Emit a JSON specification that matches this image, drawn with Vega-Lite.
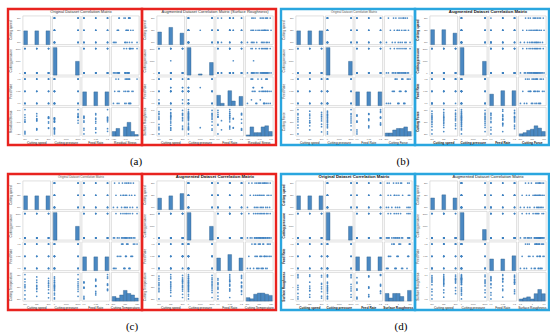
{
"$schema":"https://vega.github.io/schema/vega-lite/v6.json",
"padding":{"left":6,"top":7,"right":0,"bottom":0},
"config":{"view":{"stroke":null},"font":"Liberation Sans"},
"spacing":4,
"vconcat":[
{"hconcat":[
{"hconcat":[
{"width":134,"height":136,"view":{"stroke":"#e8231f","strokeWidth":2.4},"layer":[
{"data":{"name":"orig"},"transform":[{"fold":["s","pr","f","rs"],"as":["xk","xv"]},{"fold":["s","pr","f","rs"],"as":["yk","yv"]},{"aggregate":[{"op":"count","as":"n"}],"groupby":["xk","yk"]},{"calculate":"indexof(['s','pr','f','rs'],datum.xk)","as":"ci"},{"calculate":"3-indexof(['s','pr','f','rs'],datum.yk)","as":"ri"},{"calculate":"datum.ci+0.03","as":"x0"},{"calculate":"datum.ci+0.97","as":"x1"},{"calculate":"datum.ri+0.03","as":"y0"},{"calculate":"datum.ri+0.97","as":"y1"}],
"mark":{"type":"rect","fill":"white","stroke":"#c9c9c9","strokeWidth":0.6},
"encoding":{"x":{"field":"x0","type":"quantitative","scale":{"domain":[-0.475,4.068],"nice":false,"zero":false},"axis":null},"x2":{"field":"x1"},"y":{"field":"y0","type":"quantitative","scale":{"domain":[-0.262,4.197],"nice":false,"zero":false},"axis":null},"y2":{"field":"y1"}}},
{"data":{"name":"orig"},"transform":[{"fold":["s","pr","f","rs"],"as":["xk","xv"]},{"joinaggregate":[{"op":"min","field":"xv","as":"xmin"},{"op":"max","field":"xv","as":"xmax"}],"groupby":["xk"]},{"fold":["s","pr","f","rs"],"as":["yk","yv"]},{"joinaggregate":[{"op":"min","field":"yv","as":"ymin"},{"op":"max","field":"yv","as":"ymax"}],"groupby":["yk"]},{"filter":"datum.xk!=datum.yk"},{"calculate":"indexof(['s','pr','f','rs'],datum.xk)+0.1+0.8*(datum.xv-datum.xmin)/(datum.xmax-datum.xmin)","as":"px"},{"calculate":"3-indexof(['s','pr','f','rs'],datum.yk)+0.1+0.8*(datum.yv-datum.ymin)/(datum.ymax-datum.ymin)","as":"py"}],
"mark":{"type":"circle","size":3,"color":"#3c7fc0","opacity":0.9},
"encoding":{"x":{"field":"px","type":"quantitative","scale":{"domain":[-0.475,4.068],"nice":false,"zero":false},"axis":null},"y":{"field":"py","type":"quantitative","scale":{"domain":[-0.262,4.197],"nice":false,"zero":false},"axis":null}}},
{"data":{"name":"orig"},"transform":[{"fold":["s","pr","f","rs"],"as":["xk","xv"]},{"joinaggregate":[{"op":"min","field":"xv","as":"xmin"},{"op":"max","field":"xv","as":"xmax"}],"groupby":["xk"]},{"calculate":"min(floor(7*(datum.xv-datum.xmin)/(datum.xmax-datum.xmin)+1e-9),6)","as":"b"},{"aggregate":[{"op":"count","as":"c"}],"groupby":["xk","b"]},{"joinaggregate":[{"op":"max","field":"c","as":"m"}]},{"calculate":"indexof(['s','pr','f','rs'],datum.xk)","as":"i"},{"calculate":"datum.i+0.06+0.88*datum.b/7","as":"x0"},{"calculate":"datum.i+0.06+0.88*(datum.b+1)/7","as":"x1"},{"calculate":"3-datum.i+0.03","as":"y0"},{"calculate":"3-datum.i+0.03+0.9*datum.c/datum.m","as":"y1"}],
"mark":{"type":"rect","color":"#4a88c2","stroke":"#2c5d8c","strokeWidth":0.4},
"encoding":{"x":{"field":"x0","type":"quantitative","scale":{"domain":[-0.475,4.068],"nice":false,"zero":false},"axis":null},"x2":{"field":"x1"},"y":{"field":"y0","type":"quantitative","scale":{"domain":[-0.262,4.197],"nice":false,"zero":false},"axis":null},"y2":{"field":"y1"}}},
{"data":{"name":"orig"},"transform":[{"fold":["s","pr","f","rs"],"as":["xk","xv"]},{"aggregate":[{"op":"min","field":"xv","as":"t0"},{"op":"max","field":"xv","as":"t2"}],"groupby":["xk"]},{"calculate":"(datum.t0+datum.t2)/2","as":"t1"},{"fold":["t0","t1","t2"],"as":["tk","tv"]},{"calculate":"indexof(['s','pr','f','rs'],datum.xk)+0.1+0.4*indexof(['t0','t1','t2'],datum.tk)","as":"tx"},{"calculate":"3-indexof(['s','pr','f','rs'],datum.xk)+0.1+0.4*indexof(['t0','t1','t2'],datum.tk)","as":"ty"}],
"layer":[
{"mark":{"type":"text","fontSize":2.2,"color":"#555","baseline":"top"},"encoding":{"x":{"field":"tx","type":"quantitative","scale":{"domain":[-0.475,4.068],"nice":false,"zero":false},"axis":null},"y":{"datum":-0.02,"type":"quantitative","scale":{"domain":[-0.262,4.197],"nice":false,"zero":false},"axis":null},"text":{"field":"tv","type":"quantitative","format":"~g"}}},
{"mark":{"type":"text","fontSize":2.2,"color":"#555","align":"right"},"encoding":{"x":{"datum":-0.05,"type":"quantitative","scale":{"domain":[-0.475,4.068],"nice":false,"zero":false},"axis":null},"y":{"field":"ty","type":"quantitative","scale":{"domain":[-0.262,4.197],"nice":false,"zero":false},"axis":null},"text":{"field":"tv","type":"quantitative","format":"~g"}}}
]},
{"data":{"values":[{"t":"Original Dataset Correlation Matrix"}]},"mark":{"type":"text","fontSize":4,"color":"#333"},"encoding":{"x":{"datum":2,"type":"quantitative","scale":{"domain":[-0.475,4.068],"nice":false,"zero":false},"axis":null},"y":{"datum":4.1,"type":"quantitative","scale":{"domain":[-0.262,4.197],"nice":false,"zero":false},"axis":null},"text":{"field":"t"}}},
{"data":{"values":[{"k":"s","n":"Cutting speed"},{"k":"pr","n":"Cutting pressure"},{"k":"f","n":"Feed Rate"},{"k":"rs","n":"Residual Stress"}]},"transform":[{"calculate":"indexof(['s','pr','f','rs'],datum.k)","as":"i"},{"calculate":"datum.i+0.5","as":"lx"},{"calculate":"3.5-datum.i","as":"ly"}],
"layer":[
{"mark":{"type":"text","fontSize":3.2,"color":"#222"},"encoding":{"x":{"field":"lx","type":"quantitative","scale":{"domain":[-0.475,4.068],"nice":false,"zero":false},"axis":null},"y":{"datum":-0.19,"type":"quantitative","scale":{"domain":[-0.262,4.197],"nice":false,"zero":false},"axis":null},"text":{"field":"n"}}},
{"mark":{"type":"text","fontSize":3.2,"color":"#222","angle":270},"encoding":{"x":{"datum":-0.39,"type":"quantitative","scale":{"domain":[-0.475,4.068],"nice":false,"zero":false},"axis":null},"y":{"field":"ly","type":"quantitative","scale":{"domain":[-0.262,4.197],"nice":false,"zero":false},"axis":null},"text":{"field":"n"}}}
]}
]},
{"width":134,"height":136,"view":{"stroke":"#e8231f","strokeWidth":2.4},"layer":[
{"data":{"name":"aa"},"transform":[{"fold":["s","pr","f","o"],"as":["xk","xv"]},{"fold":["s","pr","f","o"],"as":["yk","yv"]},{"aggregate":[{"op":"count","as":"n"}],"groupby":["xk","yk"]},{"calculate":"indexof(['s','pr','f','o'],datum.xk)","as":"ci"},{"calculate":"3-indexof(['s','pr','f','o'],datum.yk)","as":"ri"},{"calculate":"datum.ci+0.03","as":"x0"},{"calculate":"datum.ci+0.97","as":"x1"},{"calculate":"datum.ri+0.03","as":"y0"},{"calculate":"datum.ri+0.97","as":"y1"}],
"mark":{"type":"rect","fill":"white","stroke":"#c9c9c9","strokeWidth":0.6},
"encoding":{"x":{"field":"x0","type":"quantitative","scale":{"domain":[-0.475,4.068],"nice":false,"zero":false},"axis":null},"x2":{"field":"x1"},"y":{"field":"y0","type":"quantitative","scale":{"domain":[-0.262,4.197],"nice":false,"zero":false},"axis":null},"y2":{"field":"y1"}}},
{"data":{"name":"aa"},"transform":[{"fold":["s","pr","f","o"],"as":["xk","xv"]},{"joinaggregate":[{"op":"min","field":"xv","as":"xmin"},{"op":"max","field":"xv","as":"xmax"}],"groupby":["xk"]},{"fold":["s","pr","f","o"],"as":["yk","yv"]},{"joinaggregate":[{"op":"min","field":"yv","as":"ymin"},{"op":"max","field":"yv","as":"ymax"}],"groupby":["yk"]},{"filter":"datum.xk!=datum.yk"},{"calculate":"indexof(['s','pr','f','o'],datum.xk)+0.1+0.8*(datum.xv-datum.xmin)/(datum.xmax-datum.xmin)","as":"px"},{"calculate":"3-indexof(['s','pr','f','o'],datum.yk)+0.1+0.8*(datum.yv-datum.ymin)/(datum.ymax-datum.ymin)","as":"py"}],
"mark":{"type":"circle","size":3,"color":"#3c7fc0","opacity":0.9},
"encoding":{"x":{"field":"px","type":"quantitative","scale":{"domain":[-0.475,4.068],"nice":false,"zero":false},"axis":null},"y":{"field":"py","type":"quantitative","scale":{"domain":[-0.262,4.197],"nice":false,"zero":false},"axis":null}}},
{"data":{"name":"aa"},"transform":[{"fold":["s","pr","f","o"],"as":["xk","xv"]},{"joinaggregate":[{"op":"min","field":"xv","as":"xmin"},{"op":"max","field":"xv","as":"xmax"}],"groupby":["xk"]},{"calculate":"min(floor(7*(datum.xv-datum.xmin)/(datum.xmax-datum.xmin)+1e-9),6)","as":"b"},{"aggregate":[{"op":"count","as":"c"}],"groupby":["xk","b"]},{"joinaggregate":[{"op":"max","field":"c","as":"m"}]},{"calculate":"indexof(['s','pr','f','o'],datum.xk)","as":"i"},{"calculate":"datum.i+0.06+0.88*datum.b/7","as":"x0"},{"calculate":"datum.i+0.06+0.88*(datum.b+1)/7","as":"x1"},{"calculate":"3-datum.i+0.03","as":"y0"},{"calculate":"3-datum.i+0.03+0.9*datum.c/datum.m","as":"y1"}],
"mark":{"type":"rect","color":"#4a88c2","stroke":"#2c5d8c","strokeWidth":0.4},
"encoding":{"x":{"field":"x0","type":"quantitative","scale":{"domain":[-0.475,4.068],"nice":false,"zero":false},"axis":null},"x2":{"field":"x1"},"y":{"field":"y0","type":"quantitative","scale":{"domain":[-0.262,4.197],"nice":false,"zero":false},"axis":null},"y2":{"field":"y1"}}},
{"data":{"name":"aa"},"transform":[{"fold":["s","pr","f","o"],"as":["xk","xv"]},{"aggregate":[{"op":"min","field":"xv","as":"t0"},{"op":"max","field":"xv","as":"t2"}],"groupby":["xk"]},{"calculate":"(datum.t0+datum.t2)/2","as":"t1"},{"fold":["t0","t1","t2"],"as":["tk","tv"]},{"calculate":"indexof(['s','pr','f','o'],datum.xk)+0.1+0.4*indexof(['t0','t1','t2'],datum.tk)","as":"tx"},{"calculate":"3-indexof(['s','pr','f','o'],datum.xk)+0.1+0.4*indexof(['t0','t1','t2'],datum.tk)","as":"ty"}],
"layer":[
{"mark":{"type":"text","fontSize":2.2,"color":"#555","baseline":"top"},"encoding":{"x":{"field":"tx","type":"quantitative","scale":{"domain":[-0.475,4.068],"nice":false,"zero":false},"axis":null},"y":{"datum":-0.02,"type":"quantitative","scale":{"domain":[-0.262,4.197],"nice":false,"zero":false},"axis":null},"text":{"field":"tv","type":"quantitative","format":"~g"}}},
{"mark":{"type":"text","fontSize":2.2,"color":"#555","align":"right"},"encoding":{"x":{"datum":-0.05,"type":"quantitative","scale":{"domain":[-0.475,4.068],"nice":false,"zero":false},"axis":null},"y":{"field":"ty","type":"quantitative","scale":{"domain":[-0.262,4.197],"nice":false,"zero":false},"axis":null},"text":{"field":"tv","type":"quantitative","format":"~g"}}}
]},
{"data":{"values":[{"t":"Augmented Dataset Correlation Matrix (Surface Roughness)"}]},"mark":{"type":"text","fontSize":4,"color":"#333"},"encoding":{"x":{"datum":2,"type":"quantitative","scale":{"domain":[-0.475,4.068],"nice":false,"zero":false},"axis":null},"y":{"datum":4.1,"type":"quantitative","scale":{"domain":[-0.262,4.197],"nice":false,"zero":false},"axis":null},"text":{"field":"t"}}},
{"data":{"values":[{"k":"s","n":"Cutting speed"},{"k":"pr","n":"Cutting pressure"},{"k":"f","n":"Feed Rate"},{"k":"o","n":"Residual Stress"}]},"transform":[{"calculate":"indexof(['s','pr','f','o'],datum.k)","as":"i"},{"calculate":"datum.i+0.5","as":"lx"}],"mark":{"type":"text","fontSize":3.2,"color":"#222"},"encoding":{"x":{"field":"lx","type":"quantitative","scale":{"domain":[-0.475,4.068],"nice":false,"zero":false},"axis":null},"y":{"datum":-0.19,"type":"quantitative","scale":{"domain":[-0.262,4.197],"nice":false,"zero":false},"axis":null},"text":{"field":"n"}}},
{"data":{"values":[{"k":"s","n":"Cutting speed"},{"k":"pr","n":"Cutting pressure"},{"k":"f","n":"Feed Rate"},{"k":"o","n":"Surface Roughness"}]},"transform":[{"calculate":"indexof(['s','pr','f','o'],datum.k)","as":"i"},{"calculate":"3.5-datum.i","as":"ly"}],"mark":{"type":"text","fontSize":3.2,"color":"#222","angle":270},"encoding":{"x":{"datum":-0.39,"type":"quantitative","scale":{"domain":[-0.475,4.068],"nice":false,"zero":false},"axis":null},"y":{"field":"ly","type":"quantitative","scale":{"domain":[-0.262,4.197],"nice":false,"zero":false},"axis":null},"text":{"field":"n"}}}
]}
],"spacing":-3,"bounds":"flush","title":{"text":"(a)","orient":"bottom","fontSize":11,"font":"Liberation Serif","fontWeight":"normal","offset":10,"anchor":"middle","dx":-6}},
{"hconcat":[
{"width":134,"height":136,"view":{"stroke":"#2aa6df","strokeWidth":2.4},"layer":[
{"data":{"name":"orig"},"transform":[{"fold":["s","pr","f","cf"],"as":["xk","xv"]},{"fold":["s","pr","f","cf"],"as":["yk","yv"]},{"aggregate":[{"op":"count","as":"n"}],"groupby":["xk","yk"]},{"calculate":"indexof(['s','pr','f','cf'],datum.xk)","as":"ci"},{"calculate":"3-indexof(['s','pr','f','cf'],datum.yk)","as":"ri"},{"calculate":"datum.ci+0.03","as":"x0"},{"calculate":"datum.ci+0.97","as":"x1"},{"calculate":"datum.ri+0.03","as":"y0"},{"calculate":"datum.ri+0.97","as":"y1"}],
"mark":{"type":"rect","fill":"white","stroke":"#c9c9c9","strokeWidth":0.6},
"encoding":{"x":{"field":"x0","type":"quantitative","scale":{"domain":[-0.475,4.068],"nice":false,"zero":false},"axis":null},"x2":{"field":"x1"},"y":{"field":"y0","type":"quantitative","scale":{"domain":[-0.262,4.197],"nice":false,"zero":false},"axis":null},"y2":{"field":"y1"}}},
{"data":{"name":"orig"},"transform":[{"fold":["s","pr","f","cf"],"as":["xk","xv"]},{"joinaggregate":[{"op":"min","field":"xv","as":"xmin"},{"op":"max","field":"xv","as":"xmax"}],"groupby":["xk"]},{"fold":["s","pr","f","cf"],"as":["yk","yv"]},{"joinaggregate":[{"op":"min","field":"yv","as":"ymin"},{"op":"max","field":"yv","as":"ymax"}],"groupby":["yk"]},{"filter":"datum.xk!=datum.yk"},{"calculate":"indexof(['s','pr','f','cf'],datum.xk)+0.1+0.8*(datum.xv-datum.xmin)/(datum.xmax-datum.xmin)","as":"px"},{"calculate":"3-indexof(['s','pr','f','cf'],datum.yk)+0.1+0.8*(datum.yv-datum.ymin)/(datum.ymax-datum.ymin)","as":"py"}],
"mark":{"type":"circle","size":3,"color":"#3c7fc0","opacity":0.9},
"encoding":{"x":{"field":"px","type":"quantitative","scale":{"domain":[-0.475,4.068],"nice":false,"zero":false},"axis":null},"y":{"field":"py","type":"quantitative","scale":{"domain":[-0.262,4.197],"nice":false,"zero":false},"axis":null}}},
{"data":{"name":"orig"},"transform":[{"fold":["s","pr","f","cf"],"as":["xk","xv"]},{"joinaggregate":[{"op":"min","field":"xv","as":"xmin"},{"op":"max","field":"xv","as":"xmax"}],"groupby":["xk"]},{"calculate":"min(floor(7*(datum.xv-datum.xmin)/(datum.xmax-datum.xmin)+1e-9),6)","as":"b"},{"aggregate":[{"op":"count","as":"c"}],"groupby":["xk","b"]},{"joinaggregate":[{"op":"max","field":"c","as":"m"}]},{"calculate":"indexof(['s','pr','f','cf'],datum.xk)","as":"i"},{"calculate":"datum.i+0.06+0.88*datum.b/7","as":"x0"},{"calculate":"datum.i+0.06+0.88*(datum.b+1)/7","as":"x1"},{"calculate":"3-datum.i+0.03","as":"y0"},{"calculate":"3-datum.i+0.03+0.9*datum.c/datum.m","as":"y1"}],
"mark":{"type":"rect","color":"#4a88c2","stroke":"#2c5d8c","strokeWidth":0.4},
"encoding":{"x":{"field":"x0","type":"quantitative","scale":{"domain":[-0.475,4.068],"nice":false,"zero":false},"axis":null},"x2":{"field":"x1"},"y":{"field":"y0","type":"quantitative","scale":{"domain":[-0.262,4.197],"nice":false,"zero":false},"axis":null},"y2":{"field":"y1"}}},
{"data":{"name":"orig"},"transform":[{"fold":["s","pr","f","cf"],"as":["xk","xv"]},{"aggregate":[{"op":"min","field":"xv","as":"t0"},{"op":"max","field":"xv","as":"t2"}],"groupby":["xk"]},{"calculate":"(datum.t0+datum.t2)/2","as":"t1"},{"fold":["t0","t1","t2"],"as":["tk","tv"]},{"calculate":"indexof(['s','pr','f','cf'],datum.xk)+0.1+0.4*indexof(['t0','t1','t2'],datum.tk)","as":"tx"},{"calculate":"3-indexof(['s','pr','f','cf'],datum.xk)+0.1+0.4*indexof(['t0','t1','t2'],datum.tk)","as":"ty"}],
"layer":[
{"mark":{"type":"text","fontSize":2.2,"color":"#555","baseline":"top"},"encoding":{"x":{"field":"tx","type":"quantitative","scale":{"domain":[-0.475,4.068],"nice":false,"zero":false},"axis":null},"y":{"datum":-0.02,"type":"quantitative","scale":{"domain":[-0.262,4.197],"nice":false,"zero":false},"axis":null},"text":{"field":"tv","type":"quantitative","format":"~g"}}},
{"mark":{"type":"text","fontSize":2.2,"color":"#555","align":"right"},"encoding":{"x":{"datum":-0.05,"type":"quantitative","scale":{"domain":[-0.475,4.068],"nice":false,"zero":false},"axis":null},"y":{"field":"ty","type":"quantitative","scale":{"domain":[-0.262,4.197],"nice":false,"zero":false},"axis":null},"text":{"field":"tv","type":"quantitative","format":"~g"}}}
]},
{"data":{"values":[{"t":"Original Dataset Correlation Matrix"}]},"mark":{"type":"text","fontSize":3,"color":"#555"},"encoding":{"x":{"datum":2,"type":"quantitative","scale":{"domain":[-0.475,4.068],"nice":false,"zero":false},"axis":null},"y":{"datum":4.1,"type":"quantitative","scale":{"domain":[-0.262,4.197],"nice":false,"zero":false},"axis":null},"text":{"field":"t"}}},
{"data":{"values":[{"k":"s","n":"Cutting speed"},{"k":"pr","n":"Cutting pressure"},{"k":"f","n":"Feed Rate"},{"k":"cf","n":"Cutting Force"}]},"transform":[{"calculate":"indexof(['s','pr','f','cf'],datum.k)","as":"i"},{"calculate":"datum.i+0.5","as":"lx"},{"calculate":"3.5-datum.i","as":"ly"}],
"layer":[
{"mark":{"type":"text","fontSize":3.2,"color":"#222"},"encoding":{"x":{"field":"lx","type":"quantitative","scale":{"domain":[-0.475,4.068],"nice":false,"zero":false},"axis":null},"y":{"datum":-0.19,"type":"quantitative","scale":{"domain":[-0.262,4.197],"nice":false,"zero":false},"axis":null},"text":{"field":"n"}}},
{"mark":{"type":"text","fontSize":3.2,"color":"#222","angle":270},"encoding":{"x":{"datum":-0.39,"type":"quantitative","scale":{"domain":[-0.475,4.068],"nice":false,"zero":false},"axis":null},"y":{"field":"ly","type":"quantitative","scale":{"domain":[-0.262,4.197],"nice":false,"zero":false},"axis":null},"text":{"field":"n"}}}
]}
]},
{"width":134,"height":136,"view":{"stroke":"#2aa6df","strokeWidth":2.4},"layer":[
{"data":{"name":"ab"},"transform":[{"fold":["s","pr","f","o"],"as":["xk","xv"]},{"fold":["s","pr","f","o"],"as":["yk","yv"]},{"aggregate":[{"op":"count","as":"n"}],"groupby":["xk","yk"]},{"calculate":"indexof(['s','pr','f','o'],datum.xk)","as":"ci"},{"calculate":"3-indexof(['s','pr','f','o'],datum.yk)","as":"ri"},{"calculate":"datum.ci+0.03","as":"x0"},{"calculate":"datum.ci+0.97","as":"x1"},{"calculate":"datum.ri+0.03","as":"y0"},{"calculate":"datum.ri+0.97","as":"y1"}],
"mark":{"type":"rect","fill":"white","stroke":"#c9c9c9","strokeWidth":0.6},
"encoding":{"x":{"field":"x0","type":"quantitative","scale":{"domain":[-0.475,4.068],"nice":false,"zero":false},"axis":null},"x2":{"field":"x1"},"y":{"field":"y0","type":"quantitative","scale":{"domain":[-0.262,4.197],"nice":false,"zero":false},"axis":null},"y2":{"field":"y1"}}},
{"data":{"name":"ab"},"transform":[{"fold":["s","pr","f","o"],"as":["xk","xv"]},{"joinaggregate":[{"op":"min","field":"xv","as":"xmin"},{"op":"max","field":"xv","as":"xmax"}],"groupby":["xk"]},{"fold":["s","pr","f","o"],"as":["yk","yv"]},{"joinaggregate":[{"op":"min","field":"yv","as":"ymin"},{"op":"max","field":"yv","as":"ymax"}],"groupby":["yk"]},{"filter":"datum.xk!=datum.yk"},{"calculate":"indexof(['s','pr','f','o'],datum.xk)+0.1+0.8*(datum.xv-datum.xmin)/(datum.xmax-datum.xmin)","as":"px"},{"calculate":"3-indexof(['s','pr','f','o'],datum.yk)+0.1+0.8*(datum.yv-datum.ymin)/(datum.ymax-datum.ymin)","as":"py"}],
"mark":{"type":"circle","size":3,"color":"#3c7fc0","opacity":0.9},
"encoding":{"x":{"field":"px","type":"quantitative","scale":{"domain":[-0.475,4.068],"nice":false,"zero":false},"axis":null},"y":{"field":"py","type":"quantitative","scale":{"domain":[-0.262,4.197],"nice":false,"zero":false},"axis":null}}},
{"data":{"name":"ab"},"transform":[{"fold":["s","pr","f","o"],"as":["xk","xv"]},{"joinaggregate":[{"op":"min","field":"xv","as":"xmin"},{"op":"max","field":"xv","as":"xmax"}],"groupby":["xk"]},{"calculate":"min(floor(7*(datum.xv-datum.xmin)/(datum.xmax-datum.xmin)+1e-9),6)","as":"b"},{"aggregate":[{"op":"count","as":"c"}],"groupby":["xk","b"]},{"joinaggregate":[{"op":"max","field":"c","as":"m"}]},{"calculate":"indexof(['s','pr','f','o'],datum.xk)","as":"i"},{"calculate":"datum.i+0.06+0.88*datum.b/7","as":"x0"},{"calculate":"datum.i+0.06+0.88*(datum.b+1)/7","as":"x1"},{"calculate":"3-datum.i+0.03","as":"y0"},{"calculate":"3-datum.i+0.03+0.9*datum.c/datum.m","as":"y1"}],
"mark":{"type":"rect","color":"#4a88c2","stroke":"#2c5d8c","strokeWidth":0.4},
"encoding":{"x":{"field":"x0","type":"quantitative","scale":{"domain":[-0.475,4.068],"nice":false,"zero":false},"axis":null},"x2":{"field":"x1"},"y":{"field":"y0","type":"quantitative","scale":{"domain":[-0.262,4.197],"nice":false,"zero":false},"axis":null},"y2":{"field":"y1"}}},
{"data":{"name":"ab"},"transform":[{"fold":["s","pr","f","o"],"as":["xk","xv"]},{"aggregate":[{"op":"min","field":"xv","as":"t0"},{"op":"max","field":"xv","as":"t2"}],"groupby":["xk"]},{"calculate":"(datum.t0+datum.t2)/2","as":"t1"},{"fold":["t0","t1","t2"],"as":["tk","tv"]},{"calculate":"indexof(['s','pr','f','o'],datum.xk)+0.1+0.4*indexof(['t0','t1','t2'],datum.tk)","as":"tx"},{"calculate":"3-indexof(['s','pr','f','o'],datum.xk)+0.1+0.4*indexof(['t0','t1','t2'],datum.tk)","as":"ty"}],
"layer":[
{"mark":{"type":"text","fontSize":2.2,"color":"#555","baseline":"top"},"encoding":{"x":{"field":"tx","type":"quantitative","scale":{"domain":[-0.475,4.068],"nice":false,"zero":false},"axis":null},"y":{"datum":-0.02,"type":"quantitative","scale":{"domain":[-0.262,4.197],"nice":false,"zero":false},"axis":null},"text":{"field":"tv","type":"quantitative","format":"~g"}}},
{"mark":{"type":"text","fontSize":2.2,"color":"#555","align":"right"},"encoding":{"x":{"datum":-0.05,"type":"quantitative","scale":{"domain":[-0.475,4.068],"nice":false,"zero":false},"axis":null},"y":{"field":"ty","type":"quantitative","scale":{"domain":[-0.262,4.197],"nice":false,"zero":false},"axis":null},"text":{"field":"tv","type":"quantitative","format":"~g"}}}
]},
{"data":{"values":[{"t":"Augmented Dataset Correlation Matrix"}]},"mark":{"type":"text","fontSize":4.3,"fontWeight":"bold","color":"#111"},"encoding":{"x":{"datum":2,"type":"quantitative","scale":{"domain":[-0.475,4.068],"nice":false,"zero":false},"axis":null},"y":{"datum":4.1,"type":"quantitative","scale":{"domain":[-0.262,4.197],"nice":false,"zero":false},"axis":null},"text":{"field":"t"}}},
{"data":{"values":[{"k":"s","n":"Cutting speed"},{"k":"pr","n":"Cutting pressure"},{"k":"f","n":"Feed Rate"},{"k":"o","n":"Cutting Force"}]},"transform":[{"calculate":"indexof(['s','pr','f','o'],datum.k)","as":"i"},{"calculate":"datum.i+0.5","as":"lx"},{"calculate":"3.5-datum.i","as":"ly"}],
"layer":[
{"mark":{"type":"text","fontSize":3.2,"fontWeight":"bold","color":"#222"},"encoding":{"x":{"field":"lx","type":"quantitative","scale":{"domain":[-0.475,4.068],"nice":false,"zero":false},"axis":null},"y":{"datum":-0.19,"type":"quantitative","scale":{"domain":[-0.262,4.197],"nice":false,"zero":false},"axis":null},"text":{"field":"n"}}},
{"mark":{"type":"text","fontSize":3.2,"fontWeight":"bold","color":"#222","angle":270},"encoding":{"x":{"datum":-0.39,"type":"quantitative","scale":{"domain":[-0.475,4.068],"nice":false,"zero":false},"axis":null},"y":{"field":"ly","type":"quantitative","scale":{"domain":[-0.262,4.197],"nice":false,"zero":false},"axis":null},"text":{"field":"n"}}}
]}
]}
],"spacing":-3,"bounds":"flush","title":{"text":"(b)","orient":"bottom","fontSize":11,"font":"Liberation Serif","fontWeight":"normal","offset":10,"anchor":"middle","dx":-12}}
],"spacing":1},
{"hconcat":[
{"hconcat":[
{"width":134,"height":136,"view":{"stroke":"#e8231f","strokeWidth":2.4},"layer":[
{"data":{"name":"orig"},"transform":[{"fold":["s","pr","f","ct"],"as":["xk","xv"]},{"fold":["s","pr","f","ct"],"as":["yk","yv"]},{"aggregate":[{"op":"count","as":"n"}],"groupby":["xk","yk"]},{"calculate":"indexof(['s','pr','f','ct'],datum.xk)","as":"ci"},{"calculate":"3-indexof(['s','pr','f','ct'],datum.yk)","as":"ri"},{"calculate":"datum.ci+0.03","as":"x0"},{"calculate":"datum.ci+0.97","as":"x1"},{"calculate":"datum.ri+0.03","as":"y0"},{"calculate":"datum.ri+0.97","as":"y1"}],
"mark":{"type":"rect","fill":"white","stroke":"#c9c9c9","strokeWidth":0.6},
"encoding":{"x":{"field":"x0","type":"quantitative","scale":{"domain":[-0.475,4.068],"nice":false,"zero":false},"axis":null},"x2":{"field":"x1"},"y":{"field":"y0","type":"quantitative","scale":{"domain":[-0.262,4.197],"nice":false,"zero":false},"axis":null},"y2":{"field":"y1"}}},
{"data":{"name":"orig"},"transform":[{"fold":["s","pr","f","ct"],"as":["xk","xv"]},{"joinaggregate":[{"op":"min","field":"xv","as":"xmin"},{"op":"max","field":"xv","as":"xmax"}],"groupby":["xk"]},{"fold":["s","pr","f","ct"],"as":["yk","yv"]},{"joinaggregate":[{"op":"min","field":"yv","as":"ymin"},{"op":"max","field":"yv","as":"ymax"}],"groupby":["yk"]},{"filter":"datum.xk!=datum.yk"},{"calculate":"indexof(['s','pr','f','ct'],datum.xk)+0.1+0.8*(datum.xv-datum.xmin)/(datum.xmax-datum.xmin)","as":"px"},{"calculate":"3-indexof(['s','pr','f','ct'],datum.yk)+0.1+0.8*(datum.yv-datum.ymin)/(datum.ymax-datum.ymin)","as":"py"}],
"mark":{"type":"circle","size":3,"color":"#3c7fc0","opacity":0.9},
"encoding":{"x":{"field":"px","type":"quantitative","scale":{"domain":[-0.475,4.068],"nice":false,"zero":false},"axis":null},"y":{"field":"py","type":"quantitative","scale":{"domain":[-0.262,4.197],"nice":false,"zero":false},"axis":null}}},
{"data":{"name":"orig"},"transform":[{"fold":["s","pr","f","ct"],"as":["xk","xv"]},{"joinaggregate":[{"op":"min","field":"xv","as":"xmin"},{"op":"max","field":"xv","as":"xmax"}],"groupby":["xk"]},{"calculate":"min(floor(7*(datum.xv-datum.xmin)/(datum.xmax-datum.xmin)+1e-9),6)","as":"b"},{"aggregate":[{"op":"count","as":"c"}],"groupby":["xk","b"]},{"joinaggregate":[{"op":"max","field":"c","as":"m"}]},{"calculate":"indexof(['s','pr','f','ct'],datum.xk)","as":"i"},{"calculate":"datum.i+0.06+0.88*datum.b/7","as":"x0"},{"calculate":"datum.i+0.06+0.88*(datum.b+1)/7","as":"x1"},{"calculate":"3-datum.i+0.03","as":"y0"},{"calculate":"3-datum.i+0.03+0.9*datum.c/datum.m","as":"y1"}],
"mark":{"type":"rect","color":"#4a88c2","stroke":"#2c5d8c","strokeWidth":0.4},
"encoding":{"x":{"field":"x0","type":"quantitative","scale":{"domain":[-0.475,4.068],"nice":false,"zero":false},"axis":null},"x2":{"field":"x1"},"y":{"field":"y0","type":"quantitative","scale":{"domain":[-0.262,4.197],"nice":false,"zero":false},"axis":null},"y2":{"field":"y1"}}},
{"data":{"name":"orig"},"transform":[{"fold":["s","pr","f","ct"],"as":["xk","xv"]},{"aggregate":[{"op":"min","field":"xv","as":"t0"},{"op":"max","field":"xv","as":"t2"}],"groupby":["xk"]},{"calculate":"(datum.t0+datum.t2)/2","as":"t1"},{"fold":["t0","t1","t2"],"as":["tk","tv"]},{"calculate":"indexof(['s','pr','f','ct'],datum.xk)+0.1+0.4*indexof(['t0','t1','t2'],datum.tk)","as":"tx"},{"calculate":"3-indexof(['s','pr','f','ct'],datum.xk)+0.1+0.4*indexof(['t0','t1','t2'],datum.tk)","as":"ty"}],
"layer":[
{"mark":{"type":"text","fontSize":2.2,"color":"#555","baseline":"top"},"encoding":{"x":{"field":"tx","type":"quantitative","scale":{"domain":[-0.475,4.068],"nice":false,"zero":false},"axis":null},"y":{"datum":-0.02,"type":"quantitative","scale":{"domain":[-0.262,4.197],"nice":false,"zero":false},"axis":null},"text":{"field":"tv","type":"quantitative","format":"~g"}}},
{"mark":{"type":"text","fontSize":2.2,"color":"#555","align":"right"},"encoding":{"x":{"datum":-0.05,"type":"quantitative","scale":{"domain":[-0.475,4.068],"nice":false,"zero":false},"axis":null},"y":{"field":"ty","type":"quantitative","scale":{"domain":[-0.262,4.197],"nice":false,"zero":false},"axis":null},"text":{"field":"tv","type":"quantitative","format":"~g"}}}
]},
{"data":{"values":[{"t":"Original Dataset Correlation Matrix"}]},"mark":{"type":"text","fontSize":3,"color":"#555"},"encoding":{"x":{"datum":2,"type":"quantitative","scale":{"domain":[-0.475,4.068],"nice":false,"zero":false},"axis":null},"y":{"datum":4.1,"type":"quantitative","scale":{"domain":[-0.262,4.197],"nice":false,"zero":false},"axis":null},"text":{"field":"t"}}},
{"data":{"values":[{"k":"s","n":"Cutting speed"},{"k":"pr","n":"Cutting pressure"},{"k":"f","n":"Feed Rate"},{"k":"ct","n":"Cutting Temperature"}]},"transform":[{"calculate":"indexof(['s','pr','f','ct'],datum.k)","as":"i"},{"calculate":"datum.i+0.5","as":"lx"},{"calculate":"3.5-datum.i","as":"ly"}],
"layer":[
{"mark":{"type":"text","fontSize":3.2,"color":"#222"},"encoding":{"x":{"field":"lx","type":"quantitative","scale":{"domain":[-0.475,4.068],"nice":false,"zero":false},"axis":null},"y":{"datum":-0.19,"type":"quantitative","scale":{"domain":[-0.262,4.197],"nice":false,"zero":false},"axis":null},"text":{"field":"n"}}},
{"mark":{"type":"text","fontSize":3.2,"color":"#222","angle":270},"encoding":{"x":{"datum":-0.39,"type":"quantitative","scale":{"domain":[-0.475,4.068],"nice":false,"zero":false},"axis":null},"y":{"field":"ly","type":"quantitative","scale":{"domain":[-0.262,4.197],"nice":false,"zero":false},"axis":null},"text":{"field":"n"}}}
]}
]},
{"width":134,"height":136,"view":{"stroke":"#e8231f","strokeWidth":2.4},"layer":[
{"data":{"name":"ac"},"transform":[{"fold":["s","pr","f","o"],"as":["xk","xv"]},{"fold":["s","pr","f","o"],"as":["yk","yv"]},{"aggregate":[{"op":"count","as":"n"}],"groupby":["xk","yk"]},{"calculate":"indexof(['s','pr','f','o'],datum.xk)","as":"ci"},{"calculate":"3-indexof(['s','pr','f','o'],datum.yk)","as":"ri"},{"calculate":"datum.ci+0.03","as":"x0"},{"calculate":"datum.ci+0.97","as":"x1"},{"calculate":"datum.ri+0.03","as":"y0"},{"calculate":"datum.ri+0.97","as":"y1"}],
"mark":{"type":"rect","fill":"white","stroke":"#c9c9c9","strokeWidth":0.6},
"encoding":{"x":{"field":"x0","type":"quantitative","scale":{"domain":[-0.475,4.068],"nice":false,"zero":false},"axis":null},"x2":{"field":"x1"},"y":{"field":"y0","type":"quantitative","scale":{"domain":[-0.262,4.197],"nice":false,"zero":false},"axis":null},"y2":{"field":"y1"}}},
{"data":{"name":"ac"},"transform":[{"fold":["s","pr","f","o"],"as":["xk","xv"]},{"joinaggregate":[{"op":"min","field":"xv","as":"xmin"},{"op":"max","field":"xv","as":"xmax"}],"groupby":["xk"]},{"fold":["s","pr","f","o"],"as":["yk","yv"]},{"joinaggregate":[{"op":"min","field":"yv","as":"ymin"},{"op":"max","field":"yv","as":"ymax"}],"groupby":["yk"]},{"filter":"datum.xk!=datum.yk"},{"calculate":"indexof(['s','pr','f','o'],datum.xk)+0.1+0.8*(datum.xv-datum.xmin)/(datum.xmax-datum.xmin)","as":"px"},{"calculate":"3-indexof(['s','pr','f','o'],datum.yk)+0.1+0.8*(datum.yv-datum.ymin)/(datum.ymax-datum.ymin)","as":"py"}],
"mark":{"type":"circle","size":3,"color":"#3c7fc0","opacity":0.9},
"encoding":{"x":{"field":"px","type":"quantitative","scale":{"domain":[-0.475,4.068],"nice":false,"zero":false},"axis":null},"y":{"field":"py","type":"quantitative","scale":{"domain":[-0.262,4.197],"nice":false,"zero":false},"axis":null}}},
{"data":{"name":"ac"},"transform":[{"fold":["s","pr","f","o"],"as":["xk","xv"]},{"joinaggregate":[{"op":"min","field":"xv","as":"xmin"},{"op":"max","field":"xv","as":"xmax"}],"groupby":["xk"]},{"calculate":"min(floor(7*(datum.xv-datum.xmin)/(datum.xmax-datum.xmin)+1e-9),6)","as":"b"},{"aggregate":[{"op":"count","as":"c"}],"groupby":["xk","b"]},{"joinaggregate":[{"op":"max","field":"c","as":"m"}]},{"calculate":"indexof(['s','pr','f','o'],datum.xk)","as":"i"},{"calculate":"datum.i+0.06+0.88*datum.b/7","as":"x0"},{"calculate":"datum.i+0.06+0.88*(datum.b+1)/7","as":"x1"},{"calculate":"3-datum.i+0.03","as":"y0"},{"calculate":"3-datum.i+0.03+0.9*datum.c/datum.m","as":"y1"}],
"mark":{"type":"rect","color":"#4a88c2","stroke":"#2c5d8c","strokeWidth":0.4},
"encoding":{"x":{"field":"x0","type":"quantitative","scale":{"domain":[-0.475,4.068],"nice":false,"zero":false},"axis":null},"x2":{"field":"x1"},"y":{"field":"y0","type":"quantitative","scale":{"domain":[-0.262,4.197],"nice":false,"zero":false},"axis":null},"y2":{"field":"y1"}}},
{"data":{"name":"ac"},"transform":[{"fold":["s","pr","f","o"],"as":["xk","xv"]},{"aggregate":[{"op":"min","field":"xv","as":"t0"},{"op":"max","field":"xv","as":"t2"}],"groupby":["xk"]},{"calculate":"(datum.t0+datum.t2)/2","as":"t1"},{"fold":["t0","t1","t2"],"as":["tk","tv"]},{"calculate":"indexof(['s','pr','f','o'],datum.xk)+0.1+0.4*indexof(['t0','t1','t2'],datum.tk)","as":"tx"},{"calculate":"3-indexof(['s','pr','f','o'],datum.xk)+0.1+0.4*indexof(['t0','t1','t2'],datum.tk)","as":"ty"}],
"layer":[
{"mark":{"type":"text","fontSize":2.2,"color":"#555","baseline":"top"},"encoding":{"x":{"field":"tx","type":"quantitative","scale":{"domain":[-0.475,4.068],"nice":false,"zero":false},"axis":null},"y":{"datum":-0.02,"type":"quantitative","scale":{"domain":[-0.262,4.197],"nice":false,"zero":false},"axis":null},"text":{"field":"tv","type":"quantitative","format":"~g"}}},
{"mark":{"type":"text","fontSize":2.2,"color":"#555","align":"right"},"encoding":{"x":{"datum":-0.05,"type":"quantitative","scale":{"domain":[-0.475,4.068],"nice":false,"zero":false},"axis":null},"y":{"field":"ty","type":"quantitative","scale":{"domain":[-0.262,4.197],"nice":false,"zero":false},"axis":null},"text":{"field":"tv","type":"quantitative","format":"~g"}}}
]},
{"data":{"values":[{"t":"Augmented Dataset Correlation Matrix"}]},"mark":{"type":"text","fontSize":4.3,"fontWeight":"bold","color":"#111"},"encoding":{"x":{"datum":2,"type":"quantitative","scale":{"domain":[-0.475,4.068],"nice":false,"zero":false},"axis":null},"y":{"datum":4.1,"type":"quantitative","scale":{"domain":[-0.262,4.197],"nice":false,"zero":false},"axis":null},"text":{"field":"t"}}},
{"data":{"values":[{"k":"s","n":"Cutting speed"},{"k":"pr","n":"Cutting pressure"},{"k":"f","n":"Feed Rate"},{"k":"o","n":"Cutting Temperature"}]},"transform":[{"calculate":"indexof(['s','pr','f','o'],datum.k)","as":"i"},{"calculate":"datum.i+0.5","as":"lx"},{"calculate":"3.5-datum.i","as":"ly"}],
"layer":[
{"mark":{"type":"text","fontSize":3.2,"color":"#222"},"encoding":{"x":{"field":"lx","type":"quantitative","scale":{"domain":[-0.475,4.068],"nice":false,"zero":false},"axis":null},"y":{"datum":-0.19,"type":"quantitative","scale":{"domain":[-0.262,4.197],"nice":false,"zero":false},"axis":null},"text":{"field":"n"}}},
{"mark":{"type":"text","fontSize":3.2,"color":"#222","angle":270},"encoding":{"x":{"datum":-0.39,"type":"quantitative","scale":{"domain":[-0.475,4.068],"nice":false,"zero":false},"axis":null},"y":{"field":"ly","type":"quantitative","scale":{"domain":[-0.262,4.197],"nice":false,"zero":false},"axis":null},"text":{"field":"n"}}}
]}
]}
],"spacing":-3,"bounds":"flush","title":{"text":"(c)","orient":"bottom","fontSize":11,"font":"Liberation Serif","fontWeight":"normal","offset":10,"anchor":"middle","dx":-10}},
{"hconcat":[
{"width":134,"height":136,"view":{"stroke":"#2aa6df","strokeWidth":2.4},"layer":[
{"data":{"name":"orig"},"transform":[{"fold":["s","pr","f","sr"],"as":["xk","xv"]},{"fold":["s","pr","f","sr"],"as":["yk","yv"]},{"aggregate":[{"op":"count","as":"n"}],"groupby":["xk","yk"]},{"calculate":"indexof(['s','pr','f','sr'],datum.xk)","as":"ci"},{"calculate":"3-indexof(['s','pr','f','sr'],datum.yk)","as":"ri"},{"calculate":"datum.ci+0.03","as":"x0"},{"calculate":"datum.ci+0.97","as":"x1"},{"calculate":"datum.ri+0.03","as":"y0"},{"calculate":"datum.ri+0.97","as":"y1"}],
"mark":{"type":"rect","fill":"white","stroke":"#c9c9c9","strokeWidth":0.6},
"encoding":{"x":{"field":"x0","type":"quantitative","scale":{"domain":[-0.475,4.068],"nice":false,"zero":false},"axis":null},"x2":{"field":"x1"},"y":{"field":"y0","type":"quantitative","scale":{"domain":[-0.262,4.197],"nice":false,"zero":false},"axis":null},"y2":{"field":"y1"}}},
{"data":{"name":"orig"},"transform":[{"fold":["s","pr","f","sr"],"as":["xk","xv"]},{"joinaggregate":[{"op":"min","field":"xv","as":"xmin"},{"op":"max","field":"xv","as":"xmax"}],"groupby":["xk"]},{"fold":["s","pr","f","sr"],"as":["yk","yv"]},{"joinaggregate":[{"op":"min","field":"yv","as":"ymin"},{"op":"max","field":"yv","as":"ymax"}],"groupby":["yk"]},{"filter":"datum.xk!=datum.yk"},{"calculate":"indexof(['s','pr','f','sr'],datum.xk)+0.1+0.8*(datum.xv-datum.xmin)/(datum.xmax-datum.xmin)","as":"px"},{"calculate":"3-indexof(['s','pr','f','sr'],datum.yk)+0.1+0.8*(datum.yv-datum.ymin)/(datum.ymax-datum.ymin)","as":"py"}],
"mark":{"type":"circle","size":3,"color":"#3c7fc0","opacity":0.9},
"encoding":{"x":{"field":"px","type":"quantitative","scale":{"domain":[-0.475,4.068],"nice":false,"zero":false},"axis":null},"y":{"field":"py","type":"quantitative","scale":{"domain":[-0.262,4.197],"nice":false,"zero":false},"axis":null}}},
{"data":{"name":"orig"},"transform":[{"fold":["s","pr","f","sr"],"as":["xk","xv"]},{"joinaggregate":[{"op":"min","field":"xv","as":"xmin"},{"op":"max","field":"xv","as":"xmax"}],"groupby":["xk"]},{"calculate":"min(floor(7*(datum.xv-datum.xmin)/(datum.xmax-datum.xmin)+1e-9),6)","as":"b"},{"aggregate":[{"op":"count","as":"c"}],"groupby":["xk","b"]},{"joinaggregate":[{"op":"max","field":"c","as":"m"}]},{"calculate":"indexof(['s','pr','f','sr'],datum.xk)","as":"i"},{"calculate":"datum.i+0.06+0.88*datum.b/7","as":"x0"},{"calculate":"datum.i+0.06+0.88*(datum.b+1)/7","as":"x1"},{"calculate":"3-datum.i+0.03","as":"y0"},{"calculate":"3-datum.i+0.03+0.9*datum.c/datum.m","as":"y1"}],
"mark":{"type":"rect","color":"#4a88c2","stroke":"#2c5d8c","strokeWidth":0.4},
"encoding":{"x":{"field":"x0","type":"quantitative","scale":{"domain":[-0.475,4.068],"nice":false,"zero":false},"axis":null},"x2":{"field":"x1"},"y":{"field":"y0","type":"quantitative","scale":{"domain":[-0.262,4.197],"nice":false,"zero":false},"axis":null},"y2":{"field":"y1"}}},
{"data":{"name":"orig"},"transform":[{"fold":["s","pr","f","sr"],"as":["xk","xv"]},{"aggregate":[{"op":"min","field":"xv","as":"t0"},{"op":"max","field":"xv","as":"t2"}],"groupby":["xk"]},{"calculate":"(datum.t0+datum.t2)/2","as":"t1"},{"fold":["t0","t1","t2"],"as":["tk","tv"]},{"calculate":"indexof(['s','pr','f','sr'],datum.xk)+0.1+0.4*indexof(['t0','t1','t2'],datum.tk)","as":"tx"},{"calculate":"3-indexof(['s','pr','f','sr'],datum.xk)+0.1+0.4*indexof(['t0','t1','t2'],datum.tk)","as":"ty"}],
"layer":[
{"mark":{"type":"text","fontSize":2.2,"color":"#555","baseline":"top"},"encoding":{"x":{"field":"tx","type":"quantitative","scale":{"domain":[-0.475,4.068],"nice":false,"zero":false},"axis":null},"y":{"datum":-0.02,"type":"quantitative","scale":{"domain":[-0.262,4.197],"nice":false,"zero":false},"axis":null},"text":{"field":"tv","type":"quantitative","format":"~g"}}},
{"mark":{"type":"text","fontSize":2.2,"color":"#555","align":"right"},"encoding":{"x":{"datum":-0.05,"type":"quantitative","scale":{"domain":[-0.475,4.068],"nice":false,"zero":false},"axis":null},"y":{"field":"ty","type":"quantitative","scale":{"domain":[-0.262,4.197],"nice":false,"zero":false},"axis":null},"text":{"field":"tv","type":"quantitative","format":"~g"}}}
]},
{"data":{"values":[{"t":"Original Dataset Correlation Matrix"}]},"mark":{"type":"text","fontSize":4.3,"fontWeight":"bold","color":"#111"},"encoding":{"x":{"datum":2,"type":"quantitative","scale":{"domain":[-0.475,4.068],"nice":false,"zero":false},"axis":null},"y":{"datum":4.1,"type":"quantitative","scale":{"domain":[-0.262,4.197],"nice":false,"zero":false},"axis":null},"text":{"field":"t"}}},
{"data":{"values":[{"k":"s","n":"Cutting speed"},{"k":"pr","n":"Cutting pressure"},{"k":"f","n":"Feed Rate"},{"k":"sr","n":"Surface Roughness"}]},"transform":[{"calculate":"indexof(['s','pr','f','sr'],datum.k)","as":"i"},{"calculate":"datum.i+0.5","as":"lx"},{"calculate":"3.5-datum.i","as":"ly"}],
"layer":[
{"mark":{"type":"text","fontSize":3.2,"fontWeight":"bold","color":"#222"},"encoding":{"x":{"field":"lx","type":"quantitative","scale":{"domain":[-0.475,4.068],"nice":false,"zero":false},"axis":null},"y":{"datum":-0.19,"type":"quantitative","scale":{"domain":[-0.262,4.197],"nice":false,"zero":false},"axis":null},"text":{"field":"n"}}},
{"mark":{"type":"text","fontSize":3.2,"fontWeight":"bold","color":"#222","angle":270},"encoding":{"x":{"datum":-0.39,"type":"quantitative","scale":{"domain":[-0.475,4.068],"nice":false,"zero":false},"axis":null},"y":{"field":"ly","type":"quantitative","scale":{"domain":[-0.262,4.197],"nice":false,"zero":false},"axis":null},"text":{"field":"n"}}}
]}
]},
{"width":134,"height":136,"view":{"stroke":"#2aa6df","strokeWidth":2.4},"layer":[
{"data":{"name":"ad"},"transform":[{"fold":["s","pr","f","o"],"as":["xk","xv"]},{"fold":["s","pr","f","o"],"as":["yk","yv"]},{"aggregate":[{"op":"count","as":"n"}],"groupby":["xk","yk"]},{"calculate":"indexof(['s','pr','f','o'],datum.xk)","as":"ci"},{"calculate":"3-indexof(['s','pr','f','o'],datum.yk)","as":"ri"},{"calculate":"datum.ci+0.03","as":"x0"},{"calculate":"datum.ci+0.97","as":"x1"},{"calculate":"datum.ri+0.03","as":"y0"},{"calculate":"datum.ri+0.97","as":"y1"}],
"mark":{"type":"rect","fill":"white","stroke":"#c9c9c9","strokeWidth":0.6},
"encoding":{"x":{"field":"x0","type":"quantitative","scale":{"domain":[-0.475,4.068],"nice":false,"zero":false},"axis":null},"x2":{"field":"x1"},"y":{"field":"y0","type":"quantitative","scale":{"domain":[-0.262,4.197],"nice":false,"zero":false},"axis":null},"y2":{"field":"y1"}}},
{"data":{"name":"ad"},"transform":[{"fold":["s","pr","f","o"],"as":["xk","xv"]},{"joinaggregate":[{"op":"min","field":"xv","as":"xmin"},{"op":"max","field":"xv","as":"xmax"}],"groupby":["xk"]},{"fold":["s","pr","f","o"],"as":["yk","yv"]},{"joinaggregate":[{"op":"min","field":"yv","as":"ymin"},{"op":"max","field":"yv","as":"ymax"}],"groupby":["yk"]},{"filter":"datum.xk!=datum.yk"},{"calculate":"indexof(['s','pr','f','o'],datum.xk)+0.1+0.8*(datum.xv-datum.xmin)/(datum.xmax-datum.xmin)","as":"px"},{"calculate":"3-indexof(['s','pr','f','o'],datum.yk)+0.1+0.8*(datum.yv-datum.ymin)/(datum.ymax-datum.ymin)","as":"py"}],
"mark":{"type":"circle","size":3,"color":"#3c7fc0","opacity":0.9},
"encoding":{"x":{"field":"px","type":"quantitative","scale":{"domain":[-0.475,4.068],"nice":false,"zero":false},"axis":null},"y":{"field":"py","type":"quantitative","scale":{"domain":[-0.262,4.197],"nice":false,"zero":false},"axis":null}}},
{"data":{"name":"ad"},"transform":[{"fold":["s","pr","f","o"],"as":["xk","xv"]},{"joinaggregate":[{"op":"min","field":"xv","as":"xmin"},{"op":"max","field":"xv","as":"xmax"}],"groupby":["xk"]},{"calculate":"min(floor(7*(datum.xv-datum.xmin)/(datum.xmax-datum.xmin)+1e-9),6)","as":"b"},{"aggregate":[{"op":"count","as":"c"}],"groupby":["xk","b"]},{"joinaggregate":[{"op":"max","field":"c","as":"m"}]},{"calculate":"indexof(['s','pr','f','o'],datum.xk)","as":"i"},{"calculate":"datum.i+0.06+0.88*datum.b/7","as":"x0"},{"calculate":"datum.i+0.06+0.88*(datum.b+1)/7","as":"x1"},{"calculate":"3-datum.i+0.03","as":"y0"},{"calculate":"3-datum.i+0.03+0.9*datum.c/datum.m","as":"y1"}],
"mark":{"type":"rect","color":"#4a88c2","stroke":"#2c5d8c","strokeWidth":0.4},
"encoding":{"x":{"field":"x0","type":"quantitative","scale":{"domain":[-0.475,4.068],"nice":false,"zero":false},"axis":null},"x2":{"field":"x1"},"y":{"field":"y0","type":"quantitative","scale":{"domain":[-0.262,4.197],"nice":false,"zero":false},"axis":null},"y2":{"field":"y1"}}},
{"data":{"name":"ad"},"transform":[{"fold":["s","pr","f","o"],"as":["xk","xv"]},{"aggregate":[{"op":"min","field":"xv","as":"t0"},{"op":"max","field":"xv","as":"t2"}],"groupby":["xk"]},{"calculate":"(datum.t0+datum.t2)/2","as":"t1"},{"fold":["t0","t1","t2"],"as":["tk","tv"]},{"calculate":"indexof(['s','pr','f','o'],datum.xk)+0.1+0.4*indexof(['t0','t1','t2'],datum.tk)","as":"tx"},{"calculate":"3-indexof(['s','pr','f','o'],datum.xk)+0.1+0.4*indexof(['t0','t1','t2'],datum.tk)","as":"ty"}],
"layer":[
{"mark":{"type":"text","fontSize":2.2,"color":"#555","baseline":"top"},"encoding":{"x":{"field":"tx","type":"quantitative","scale":{"domain":[-0.475,4.068],"nice":false,"zero":false},"axis":null},"y":{"datum":-0.02,"type":"quantitative","scale":{"domain":[-0.262,4.197],"nice":false,"zero":false},"axis":null},"text":{"field":"tv","type":"quantitative","format":"~g"}}},
{"mark":{"type":"text","fontSize":2.2,"color":"#555","align":"right"},"encoding":{"x":{"datum":-0.05,"type":"quantitative","scale":{"domain":[-0.475,4.068],"nice":false,"zero":false},"axis":null},"y":{"field":"ty","type":"quantitative","scale":{"domain":[-0.262,4.197],"nice":false,"zero":false},"axis":null},"text":{"field":"tv","type":"quantitative","format":"~g"}}}
]},
{"data":{"values":[{"t":"Augmented Dataset Correlation Matrix"}]},"mark":{"type":"text","fontSize":4.2,"color":"#222"},"encoding":{"x":{"datum":2,"type":"quantitative","scale":{"domain":[-0.475,4.068],"nice":false,"zero":false},"axis":null},"y":{"datum":4.1,"type":"quantitative","scale":{"domain":[-0.262,4.197],"nice":false,"zero":false},"axis":null},"text":{"field":"t"}}},
{"data":{"values":[{"k":"s","n":"Cutting speed"},{"k":"pr","n":"Cutting pressure"},{"k":"f","n":"Feed Rate"},{"k":"o","n":"Surface Roughness"}]},"transform":[{"calculate":"indexof(['s','pr','f','o'],datum.k)","as":"i"},{"calculate":"datum.i+0.5","as":"lx"},{"calculate":"3.5-datum.i","as":"ly"}],
"layer":[
{"mark":{"type":"text","fontSize":3.2,"color":"#222"},"encoding":{"x":{"field":"lx","type":"quantitative","scale":{"domain":[-0.475,4.068],"nice":false,"zero":false},"axis":null},"y":{"datum":-0.19,"type":"quantitative","scale":{"domain":[-0.262,4.197],"nice":false,"zero":false},"axis":null},"text":{"field":"n"}}},
{"mark":{"type":"text","fontSize":3.2,"color":"#222","angle":270},"encoding":{"x":{"datum":-0.39,"type":"quantitative","scale":{"domain":[-0.475,4.068],"nice":false,"zero":false},"axis":null},"y":{"field":"ly","type":"quantitative","scale":{"domain":[-0.262,4.197],"nice":false,"zero":false},"axis":null},"text":{"field":"n"}}}
]}
]}
],"spacing":-3,"bounds":"flush","title":{"text":"(d)","orient":"bottom","fontSize":11,"font":"Liberation Serif","fontWeight":"normal","offset":10,"anchor":"middle","dx":-14}}
],"spacing":1}
],
"datasets":{
"orig":[
{"s":100,"pr":0,"f":0.1,"rs":-420,"cf":200,"ct":300,"sr":0.30},
{"s":100,"pr":0,"f":0.1,"rs":-150,"cf":500,"ct":495,"sr":0.84},
{"s":100,"pr":2000,"f":0.1,"rs":-40,"cf":670,"ct":595,"sr":1.52},
{"s":100,"pr":0,"f":0.15,"rs":-390,"cf":350,"ct":370,"sr":0.42},
{"s":100,"pr":0,"f":0.15,"rs":-130,"cf":550,"ct":520,"sr":0.96},
{"s":100,"pr":2000,"f":0.15,"rs":20,"cf":700,"ct":640,"sr":1.62},
{"s":100,"pr":0,"f":0.2,"rs":-360,"cf":420,"ct":445,"sr":0.62},
{"s":100,"pr":0,"f":0.2,"rs":-95,"cf":600,"ct":545,"sr":1.08},
{"s":100,"pr":2000,"f":0.2,"rs":140,"cf":800,"ct":720,"sr":1.70},
{"s":150,"pr":0,"f":0.1,"rs":-330,"cf":490,"ct":485,"sr":0.80},
{"s":150,"pr":0,"f":0.1,"rs":-120,"cf":650,"ct":585,"sr":1.26},
{"s":150,"pr":2000,"f":0.1,"rs":-10,"cf":300,"ct":345,"sr":0.40},
{"s":150,"pr":0,"f":0.15,"rs":-310,"cf":530,"ct":515,"sr":0.92},
{"s":150,"pr":0,"f":0.15,"rs":-80,"cf":690,"ct":625,"sr":1.60},
{"s":150,"pr":2000,"f":0.15,"rs":45,"cf":400,"ct":430,"sr":0.55},
{"s":150,"pr":0,"f":0.2,"rs":-300,"cf":590,"ct":535,"sr":1.04},
{"s":150,"pr":0,"f":0.2,"rs":-70,"cf":760,"ct":680,"sr":1.68},
{"s":150,"pr":2000,"f":0.2,"rs":-110,"cf":470,"ct":470,"sr":0.76},
{"s":200,"pr":0,"f":0.1,"rs":-290,"cf":640,"ct":575,"sr":1.20},
{"s":200,"pr":0,"f":0.1,"rs":-60,"cf":250,"ct":320,"sr":0.35},
{"s":200,"pr":2000,"f":0.1,"rs":-25,"cf":520,"ct":505,"sr":0.88},
{"s":200,"pr":0,"f":0.15,"rs":-280,"cf":680,"ct":610,"sr":1.56},
{"s":200,"pr":0,"f":0.15,"rs":-55,"cf":380,"ct":400,"sr":0.46},
{"s":200,"pr":2000,"f":0.15,"rs":-170,"cf":570,"ct":530,"sr":1.00},
{"s":200,"pr":0,"f":0.2,"rs":-140,"cf":730,"ct":655,"sr":1.65},
{"s":200,"pr":0,"f":0.2,"rs":-50,"cf":440,"ct":460,"sr":0.72},
{"s":200,"pr":2000,"f":0.2,"rs":-35,"cf":620,"ct":560,"sr":1.14}
],
"aa":[
{"s":100,"pr":0,"f":0.1,"o":-420},{"s":100,"pr":0,"f":0.1,"o":-200},{"s":100,"pr":2000,"f":0.1,"o":-25},
{"s":100,"pr":0,"f":0.15,"o":95},{"s":100,"pr":0,"f":0.15,"o":-265},{"s":100,"pr":2000,"f":0.15,"o":-55},
{"s":100,"pr":0,"f":0.2,"o":50},{"s":100,"pr":0,"f":0.2,"o":-295},{"s":100,"pr":2000,"f":0.2,"o":-85},
{"s":100,"pr":0,"f":0.1,"o":25},{"s":100,"pr":0,"f":0.115,"o":-325},{"s":150,"pr":2000,"f":0.15,"o":-140},
{"s":150,"pr":0,"f":0.15,"o":-5},{"s":150,"pr":0,"f":0.15,"o":140},{"s":150,"pr":2000,"f":0.1,"o":-220},
{"s":150,"pr":0,"f":0.1,"o":-35},{"s":150,"pr":0,"f":0.1,"o":70},{"s":150,"pr":1000,"f":0.165,"o":-275},
{"s":150,"pr":0,"f":0.165,"o":-65},{"s":150,"pr":0,"f":0.15,"o":45},{"s":150,"pr":2000,"f":0.15,"o":-305},
{"s":150,"pr":0,"f":0.15,"o":-95},{"s":150,"pr":0,"f":0.2,"o":15},{"s":150,"pr":2000,"f":0.2,"o":-335},
{"s":150,"pr":0,"f":0.2,"o":-170},{"s":150,"pr":0,"f":0.1,"o":-15},{"s":200,"pr":2000,"f":0.1,"o":120},
{"s":200,"pr":0,"f":0.15,"o":-240},{"s":200,"pr":0,"f":0.15,"o":-45},{"s":200,"pr":2000,"f":0.15,"o":55},
{"s":200,"pr":0,"f":0.165,"o":-285},{"s":200,"pr":0,"f":0.165,"o":-75},{"s":200,"pr":2000,"f":0.2,"o":35},
{"s":200,"pr":0,"f":0.2,"o":-315},{"s":200,"pr":0,"f":0.115,"o":-115},{"s":200,"pr":2000,"f":0.15,"o":5}
],
"ab":[
{"s":100,"pr":0,"f":0.1,"o":200},{"s":100,"pr":0,"f":0.1,"o":480},{"s":100,"pr":2000,"f":0.1,"o":610},
{"s":100,"pr":0,"f":0.15,"o":760},{"s":100,"pr":0,"f":0.15,"o":435},{"s":100,"pr":2000,"f":0.15,"o":580},
{"s":100,"pr":0,"f":0.2,"o":700},{"s":100,"pr":0,"f":0.2,"o":380},{"s":100,"pr":2000,"f":0.2,"o":550},
{"s":100,"pr":0,"f":0.1,"o":660},{"s":100,"pr":0,"f":0.1,"o":300},{"s":100,"pr":2000,"f":0.1,"o":510},
{"s":100,"pr":0,"f":0.15,"o":625},{"s":150,"pr":0,"f":0.15,"o":800},{"s":150,"pr":2000,"f":0.15,"o":465},
{"s":150,"pr":0,"f":0.2,"o":600},{"s":150,"pr":0,"f":0.2,"o":730},{"s":150,"pr":2000,"f":0.2,"o":420},
{"s":150,"pr":0,"f":0.1,"o":570},{"s":150,"pr":0,"f":0.1,"o":690},{"s":150,"pr":2000,"f":0.1,"o":360},
{"s":150,"pr":0,"f":0.15,"o":540},{"s":150,"pr":0,"f":0.15,"o":645},{"s":150,"pr":2000,"f":0.15,"o":260},
{"s":150,"pr":0,"f":0.2,"o":495},{"s":150,"pr":0,"f":0.2,"o":620},{"s":200,"pr":2000,"f":0.2,"o":780},
{"s":200,"pr":0,"f":0.15,"o":450},{"s":200,"pr":0,"f":0.2,"o":590},{"s":200,"pr":2000,"f":0.1,"o":710},
{"s":200,"pr":0,"f":0.15,"o":400},{"s":200,"pr":0,"f":0.15,"o":560},{"s":200,"pr":2000,"f":0.15,"o":675},
{"s":200,"pr":0,"f":0.2,"o":330},{"s":200,"pr":0,"f":0.2,"o":525},{"s":200,"pr":2000,"f":0.2,"o":635}
],
"ac":[
{"s":100,"pr":0,"f":0.1,"o":300},{"s":100,"pr":0,"f":0.1,"o":485},{"s":100,"pr":2000,"f":0.1,"o":580},
{"s":100,"pr":0,"f":0.15,"o":695},{"s":100,"pr":0,"f":0.15,"o":455},{"s":100,"pr":2000,"f":0.15,"o":555},
{"s":100,"pr":0,"f":0.2,"o":655},{"s":100,"pr":0,"f":0.2,"o":425},{"s":100,"pr":2000,"f":0.2,"o":528},
{"s":100,"pr":0,"f":0.1,"o":625},{"s":150,"pr":0,"f":0.1,"o":350},{"s":150,"pr":2000,"f":0.1,"o":505},
{"s":150,"pr":0,"f":0.15,"o":595},{"s":150,"pr":0,"f":0.15,"o":720},{"s":150,"pr":2000,"f":0.15,"o":475},
{"s":150,"pr":0,"f":0.2,"o":575},{"s":150,"pr":0,"f":0.2,"o":680},{"s":150,"pr":2000,"f":0.2,"o":445},
{"s":150,"pr":0,"f":0.1,"o":545},{"s":150,"pr":0,"f":0.1,"o":650},{"s":150,"pr":2000,"f":0.1,"o":410},
{"s":150,"pr":0,"f":0.15,"o":522},{"s":200,"pr":0,"f":0.15,"o":615},{"s":200,"pr":2000,"f":0.15,"o":325},
{"s":200,"pr":0,"f":0.2,"o":495},{"s":200,"pr":0,"f":0.2,"o":588},{"s":200,"pr":2000,"f":0.2,"o":705},
{"s":200,"pr":0,"f":0.1,"o":465},{"s":200,"pr":0,"f":0.1,"o":565},{"s":200,"pr":2000,"f":0.15,"o":665},
{"s":200,"pr":0,"f":0.15,"o":435},{"s":200,"pr":0,"f":0.15,"o":535},{"s":200,"pr":2000,"f":0.15,"o":640},
{"s":200,"pr":0,"f":0.2,"o":380},{"s":200,"pr":0,"f":0.2,"o":515},{"s":200,"pr":2000,"f":0.15,"o":605}
],
"ad":[
{"s":100,"pr":0,"f":0.1,"o":0.30},{"s":100,"pr":0,"f":0.1,"o":1.12},{"s":100,"pr":2000,"f":0.1,"o":1.39},
{"s":100,"pr":0,"f":0.15,"o":1.64},{"s":100,"pr":0,"f":0.15,"o":0.86},{"s":100,"pr":2000,"f":0.15,"o":1.33},
{"s":100,"pr":0,"f":0.2,"o":1.55},{"s":100,"pr":0,"f":0.2,"o":0.72},{"s":100,"pr":2000,"f":0.2,"o":1.26},
{"s":100,"pr":0,"f":0.1,"o":1.47},{"s":100,"pr":0,"f":0.1,"o":0.52},{"s":150,"pr":2000,"f":0.1,"o":1.18},
{"s":150,"pr":0,"f":0.15,"o":1.43},{"s":150,"pr":0,"f":0.15,"o":1.70},{"s":150,"pr":2000,"f":0.15,"o":1.05},
{"s":150,"pr":0,"f":0.2,"o":1.37},{"s":150,"pr":0,"f":0.2,"o":1.61},{"s":150,"pr":2000,"f":0.2,"o":0.82},
{"s":150,"pr":0,"f":0.2,"o":1.31},{"s":150,"pr":0,"f":0.1,"o":1.52},{"s":150,"pr":2000,"f":0.1,"o":0.66},
{"s":150,"pr":0,"f":0.2,"o":1.24},{"s":150,"pr":0,"f":0.15,"o":1.46},{"s":150,"pr":2000,"f":0.15,"o":0.40},
{"s":150,"pr":0,"f":0.2,"o":1.15},{"s":200,"pr":0,"f":0.2,"o":1.41},{"s":200,"pr":2000,"f":0.2,"o":1.67},
{"s":200,"pr":0,"f":0.1,"o":0.95},{"s":200,"pr":0,"f":0.1,"o":1.35},{"s":200,"pr":2000,"f":0.1,"o":1.58},
{"s":200,"pr":0,"f":0.15,"o":0.78},{"s":200,"pr":0,"f":0.15,"o":1.28},{"s":200,"pr":0,"f":0.15,"o":1.48},
{"s":200,"pr":0,"f":0.2,"o":0.60},{"s":200,"pr":0,"f":0.2,"o":1.21},{"s":200,"pr":0,"f":0.2,"o":1.44}
]
}
}
